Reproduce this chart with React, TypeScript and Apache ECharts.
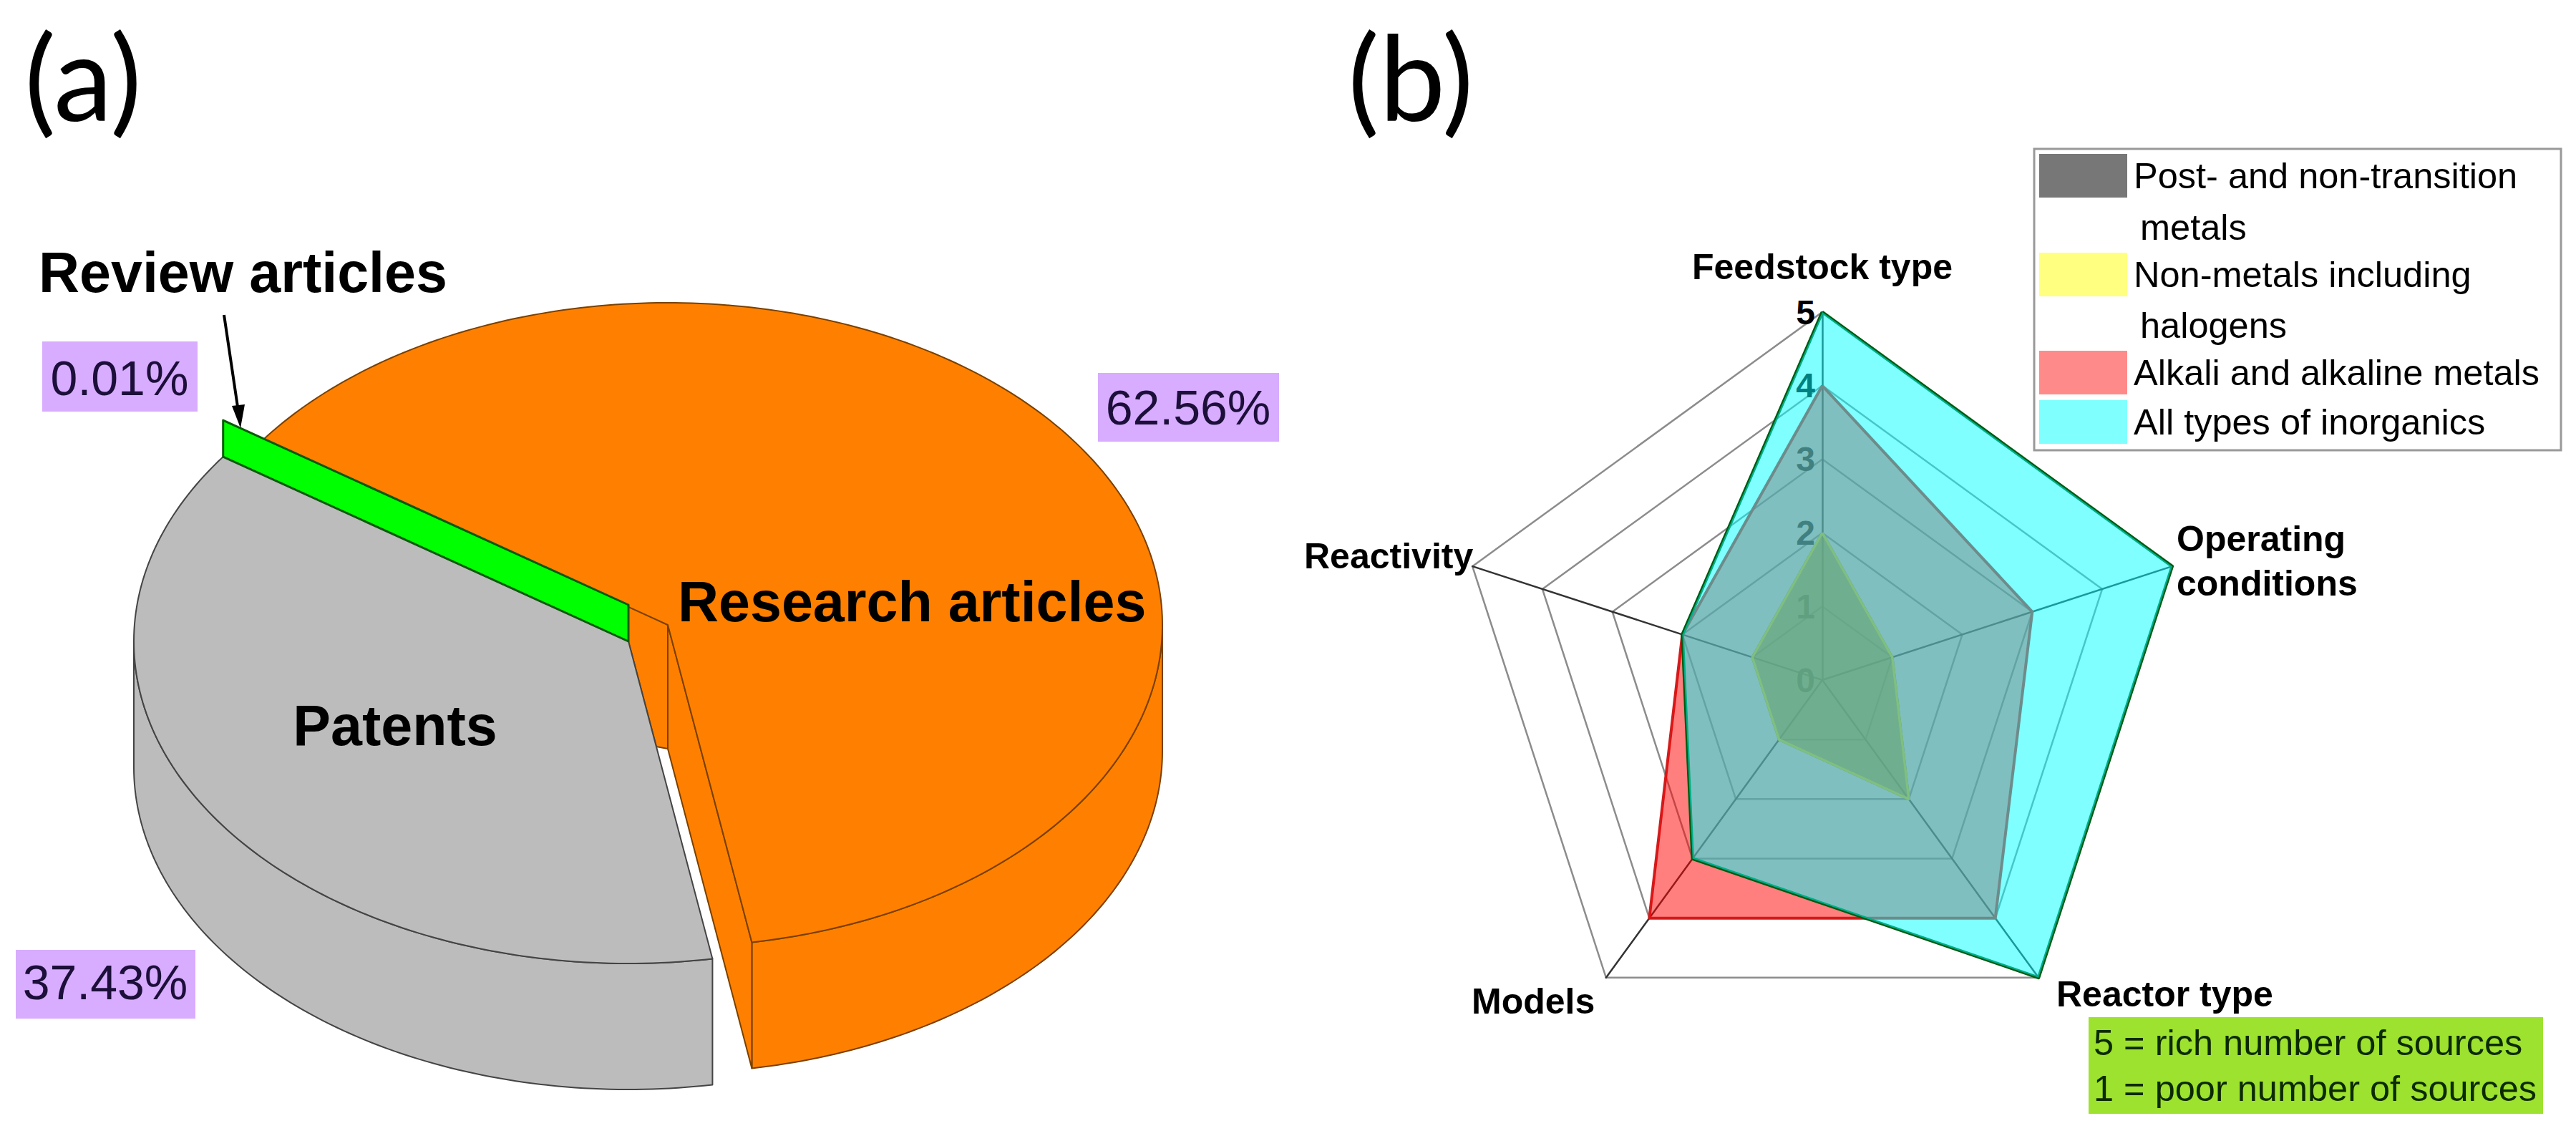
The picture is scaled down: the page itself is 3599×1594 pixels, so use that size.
import React, { useEffect, useRef } from "react";
import * as echarts from "echarts";

// ---- Panel (a) data ----
const sliceNames = ["Research articles", "Patents", "Review articles"];
const sliceValues = [62.56, 37.43, 0.01];

// ---- Panel (b) data (ECharts lays indicators out counter-clockwise from the top) ----
const indicatorNames = ["Feedstock type", "Reactivity", "Models", "Reactor type", "Operating conditions"];
const postTransition = [2, 1, 1, 2, 1];
const nonMetals = [2, 1, 1, 2, 1];
const alkali = [4, 2, 4, 4, 3];
const allInorganics = [5, 2, 3, 5, 5];
const noteLines = ["5 = rich number of sources", "1 = poor number of sources"];

const FONT = '"Liberation Sans", Arial, sans-serif';

// pie geometry
const RX = 691;
const RY = 450;
const WALL = 176;
const START_DEG = -55;
const orangeApex = [933, 873];
const grayApex = [878, 896];
const greenLift = 51;

function pt(c: number[], deg: number, dy = 0) {
  const t = (deg * Math.PI) / 180;
  return [c[0] + RX * Math.sin(t), c[1] - RY * Math.cos(t) + dy];
}
function arc(c: number[], a: number, b: number, dy = 0) {
  const out: number[][] = [];
  const n = Math.max(2, Math.ceil(Math.abs(b - a)));
  for (let i = 0; i <= n; i++) out.push(pt(c, a + ((b - a) * i) / n, dy));
  return out;
}
function poly(points: number[][], fill: string, stroke: string, lw = 2) {
  return { type: "polygon", shape: { points }, style: { fill, stroke, lineWidth: lw, lineJoin: "round" } };
}

function renderPie(params: any) {
  const total = sliceValues.reduce((a, b) => a + b, 0);
  const idx = params.dataIndex;
  let acc = START_DEG;
  for (let i = 0; i < idx; i++) acc += (sliceValues[i] / total) * 360;
  const a0 = acc;
  const a1 = acc + (sliceValues[idx] / total) * 360;
  const children: any[] = [];
  if (idx === 0) {
    const fill = "#ff8000";
    const st = "#7a4000";
    const greenTop = [grayApex[0], grayApex[1] - greenLift];
    children.push(
      poly([greenTop, orangeApex, [orangeApex[0], orangeApex[1] + WALL - 3], [917, 1043], grayApex], fill, st)
    );
    children.push(poly([...arc(orangeApex, 90, a1), ...arc(orangeApex, a1, 90, WALL)], fill, st));
    children.push(
      poly(
        [orangeApex, pt(orangeApex, a1), pt(orangeApex, a1, WALL), [orangeApex[0], orangeApex[1] + WALL - 3]],
        fill,
        st
      )
    );
    children.push(poly([orangeApex, ...arc(orangeApex, a0, a1)], fill, st));
  } else if (idx === 1) {
    const fill = "#bcbcbc";
    const st = "#444444";
    children.push(poly([...arc(grayApex, a0, 270), ...arc(grayApex, 270, a0, WALL)], fill, st));
    children.push(poly([grayApex, ...arc(grayApex, a0, a1)], fill, st));
  } else {
    const top = [grayApex[0], grayApex[1] - greenLift];
    children.push(poly([top, pt(top, a0), pt(grayApex, a0), grayApex], "#00ff00", "#0a5a0a", 3));
  }
  return { type: "group", children };
}

function label(text: string, x: number, baseline: number, size: number, opts: any = {}) {
  return {
    type: "text",
    x,
    y: baseline - 0.35 * size,
    z: 50,
    style: {
      text,
      fontFamily: opts.family || FONT,
      fontSize: size,
      fontWeight: opts.bold ? "bold" : "normal",
      fill: opts.fill || "#000",
      align: opts.align || "left",
      verticalAlign: "middle",
    },
  };
}
function box(x0: number, y0: number, x1: number, y1: number, fill: string, stroke?: string, z = 40) {
  return {
    type: "rect",
    z,
    shape: { x: x0, y: y0, width: x1 - x0, height: y1 - y0 },
    style: { fill, stroke: stroke || "none", lineWidth: stroke ? 3 : 0 },
  };
}

function legendItem(name: string, shown: string, top: number, color: string) {
  return {
    left: 2849,
    top,
    padding: 0,
    orient: "vertical",
    icon: "rect",
    itemWidth: 123,
    itemHeight: 61,
    itemGap: 0,
    selectedMode: false,
    data: [{ name, itemStyle: { color, opacity: 1, borderWidth: 0 } }],
    formatter: () => shown,
    textStyle: { fontFamily: FONT, fontSize: 50.5, color: "#000", padding: [0, 0, 0, 4] },
    z: 60,
  };
}

const purple = "#d8acff";
const purpleText = "#1c0f3a";

export default function App() {
  const ref = useRef<HTMLDivElement>(null);
  useEffect(() => {
    document.body.style.margin = "0";
    const chart = echarts.init(ref.current!, undefined, { renderer: "svg" });
    const radarSeries = (name: string, values: number[], fill: string, line: string, w = 3.5) => ({
      type: "radar",
      name,
      symbol: "none",
      data: [{ name, value: values }],
      lineStyle: { color: line, width: w },
      areaStyle: { color: fill, opacity: 0.5 },
      itemStyle: { color: fill },
    });
    chart.setOption({
      animation: false,
      backgroundColor: "#fff",
      legend: [
        legendItem("Post- and non-transition metals", "Post- and non-transition", 215, "#777777"),
        legendItem("Non-metals including halogens", "Non-metals including", 353, "#ffff80"),
        legendItem("Alkali and alkaline metals", "Alkali and alkaline metals", 490, "#ff8a8a"),
        legendItem("All types of inorganics", "All types of inorganics", 559, "#80ffff"),
      ],
      radar: {
        center: [2546, 950],
        radius: 514,
        splitNumber: 5,
        startAngle: 90,
        shape: "polygon",
        axisName: { show: false },
        splitArea: { show: false },
        splitLine: { lineStyle: { color: "#8c8c8c", width: 2.5 } },
        axisLine: { show: true, lineStyle: { color: "#333333", width: 2.5 } },
        axisTick: { show: false },
        axisLabel: { show: false },
        indicator: indicatorNames.map((name, i) => ({
          name,
          min: 0,
          max: 5,
          ...(i === 0
            ? { axisLabel: { show: true, color: "#000", fontFamily: FONT, fontWeight: "bold", fontSize: 48, margin: 10 } }
            : {}),
        })),
      },
      series: [
        {
          type: "custom",
          coordinateSystem: "none",
          name: "Share of sources",
          renderItem: renderPie,
          data: sliceValues.map((v, i) => ({ name: sliceNames[i], value: [v] })),
          silent: true,
        },
        radarSeries("Post- and non-transition metals", postTransition, "#000000", "#555555"),
        radarSeries("Non-metals including halogens", nonMetals, "#ffff00", "#ffff00"),
        radarSeries("Alkali and alkaline metals", alkali, "#ff0000", "#cc2020", 4),
        radarSeries("All types of inorganics", allInorganics, "#00ffff", "#005a10", 4.5),
      ],
      graphic: [
        label("(a)", 34, 163, 165, { family: "Lato" }),
        label("(b)", 1883, 163, 165, { family: "Lato" }),
        label(sliceNames[2], 54, 408, 79, { bold: true }),
        label(sliceNames[0], 947, 868, 79, { bold: true }),
        label(sliceNames[1], 552, 1041, 79, { bold: true, align: "center" }),
        box(59, 477, 276, 575, purple),
        label(`${sliceValues[2].toFixed(2)}%`, 167, 552, 68, { align: "center", fill: purpleText }),
        box(1534, 521, 1787, 617, purple),
        label(`${sliceValues[0].toFixed(2)}%`, 1660, 593, 68, { align: "center", fill: purpleText }),
        box(22, 1327, 273, 1423, purple),
        label(`${sliceValues[1].toFixed(2)}%`, 147, 1396, 68, { align: "center", fill: purpleText }),
        { type: "line", z: 45, shape: { x1: 313, y1: 440, x2: 333, y2: 575 }, style: { stroke: "#000", lineWidth: 4 } },
        { type: "polygon", z: 45, shape: { points: [[324, 567], [342, 565], [336, 598]] }, style: { fill: "#000" } },
        box(2842, 208, 3578, 629, "#fff", "#999999", 5),
        label("metals", 2990, 335, 50.5),
        label("halogens", 2990, 472, 50.5),
        label(indicatorNames[0], 2546, 390, 50, { bold: true, align: "center" }),
        label(indicatorNames[1], 1822, 794, 50, { bold: true }),
        label(indicatorNames[2], 2056, 1416, 50, { bold: true }),
        label(indicatorNames[3], 2873, 1406, 50, { bold: true }),
        label(indicatorNames[4].split(" ")[0], 3041, 770, 50, { bold: true }),
        label(indicatorNames[4].split(" ")[1], 3041, 832, 50, { bold: true }),
        box(2918, 1421, 3553, 1556, "#9ce22e"),
        label(noteLines[0], 2925, 1474, 50.5, { fill: "#0c2a00" }),
        label(noteLines[1], 2925, 1538, 50.5, { fill: "#0c2a00" }),
      ],
    });
    return () => chart.dispose();
  }, []);
  return <div ref={ref} style={{ width: 3599, height: 1594 }} />;
}
